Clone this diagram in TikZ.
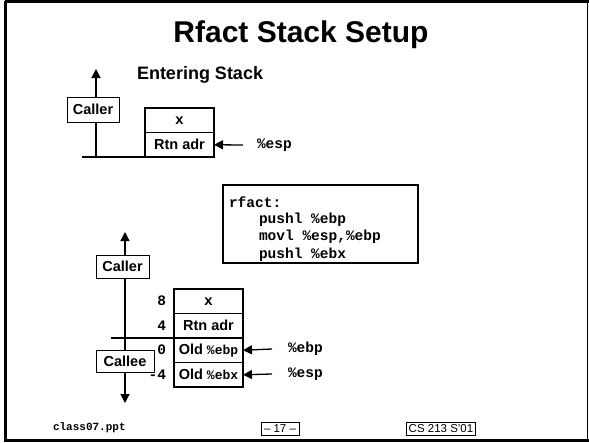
\documentclass[tikz,border=0pt]{standalone}
\usepackage{fontspec}
\setmainfont{Liberation Sans}[BoldFont={Liberation Sans Bold}]
\newfontfamily\cour{Liberation Mono}[BoldFont={Liberation Mono Bold}]
\usetikzlibrary{arrows.meta}
\begin{document}
\begin{tikzpicture}[x=1pt,y=-1pt,
  every node/.style={inner sep=0pt,outer sep=0pt},
  sans/.style={font=\fontsize{14.5}{16}\selectfont\bfseries},
  mono/.style={font=\fontsize{14.5}{16}\selectfont\cour\bfseries},
  cell/.style={draw,line width=1.3pt,fill=white,minimum width=69pt,minimum height=24.5pt,sans},
  lbox/.style={draw,line width=0.9pt,fill=white,sans},
  tip/.style={-{Triangle[length=9pt,width=9pt]},line width=1.3pt},
  twotip/.style={{Triangle[length=9pt,width=9pt]}-{Triangle[length=9pt,width=9pt]},line width=1.3pt},
  foot/.style={draw,line width=0.6pt,font=\fontsize{11.5}{12}\selectfont,inner xsep=2pt,minimum height=13pt}]
\useasboundingbox (0,0) rectangle (589,442);
\fill[white] (0,0) rectangle (589,442);
% frame
\draw[line width=2.7pt] (5.4,1.3) -- (5.4,440.7) -- (589,440.7);
\draw[line width=2.7pt] (5.4,1.3) -- (589,1.3);
\draw[line width=1pt] (587.5,1.3) -- (587.5,440.7);
% title
\node[font=\fontsize{30}{32}\selectfont\bfseries] (title) at (301,35) {Rfact Stack Setup};
\node[font=\fontsize{18}{20}\selectfont\bfseries,anchor=west] (enter) at (137,75) {Entering Stack};
% ---------------- top stack
\coordinate (ta) at (96,157);
\coordinate (tb) at (96,69);
\draw[tip] (ta) -- (tb);
\node[cell,anchor=north west] (tx) at (145,108) {\cour x};
\node[cell,anchor=north] (trtn) at (tx.south) {Rtn adr};
\coordinate (tl) at (82,157);
\draw[line width=1.3pt] (tl) -- (trtn.south west);
\node[lbox,minimum width=52pt,minimum height=25pt] (tcaller) at (93,109.5) {Caller};
\coordinate (tesp) at (243,145);
\draw[tip] (tesp) -- (trtn.east);
\node[mono,anchor=west] (tesplbl) at (257,145) {\%esp};
% ---------------- code box
\node[draw,line width=1.2pt,minimum width=195pt,minimum height=78pt,anchor=north west] (code) at (223,185) {};
\draw[line width=2.7pt] (code.north west) -- (code.south west) -- (code.south east);
\node[mono,anchor=west] (c1) at (229,202) {rfact:};
\node[mono,anchor=west] (c2) at (259,219.5) {pushl \%ebp};
\node[mono,anchor=west] (c3) at (259,237) {movl \%esp,\%ebp};
\node[mono,anchor=west] (c4) at (259,254.5) {pushl \%ebx};
% ---------------- bottom stack
\coordinate (ba) at (125,232);
\coordinate (bb) at (125,403);
\draw[twotip] (ba) -- (bb);
\node[cell,anchor=north west] (bx) at (174,289) {\cour x};
\node[cell,anchor=north] (brtn) at (bx.south) {Rtn adr};
\node[cell,anchor=north] (bebp) at (brtn.south) {Old {\cour\fontsize{13}{15}\selectfont\%ebp}};
\node[cell,anchor=north] (bebx) at (bebp.south) {Old {\cour\fontsize{13}{15}\selectfont\%ebx}};
\coordinate (bl) at (111,338);
\draw[line width=1.3pt] (bl) -- (bebp.north west);
\node[lbox,minimum width=53pt,minimum height=23pt] (bcaller) at (122.5,266.5) {Caller};
\node[lbox,minimum width=58pt,minimum height=22pt] (bcallee) at (125,361.5) {Callee};
\node[mono,anchor=east] (n8) at (166,301) {8};
\node[mono,anchor=east] (n4) at (166,326) {4};
\node[mono,anchor=east] (n0) at (166,350) {0};
\node[mono,anchor=east] (nm4) at (166,375) {-4};
\coordinate (bebpa) at (272,349);
\coordinate (bespa) at (272,374);
\draw[tip] (bebpa) -- (bebp.east);
\draw[tip] (bespa) -- (bebx.east);
\node[mono,anchor=west] (lebp) at (288,349) {\%ebp};
\node[mono,anchor=west] (lesp) at (288,374) {\%esp};
% ---------------- footer
\node[font=\fontsize{11}{12}\selectfont\cour\bfseries,anchor=west] (fclass) at (53,428) {class07.ppt};
\node[foot,minimum width=38pt] (fpage) at (280,428.5) {-- 17 --};
\node[foot,minimum width=68pt] (fcs) at (441,428.5) {CS 213 S'01};
\end{tikzpicture}
\end{document}
